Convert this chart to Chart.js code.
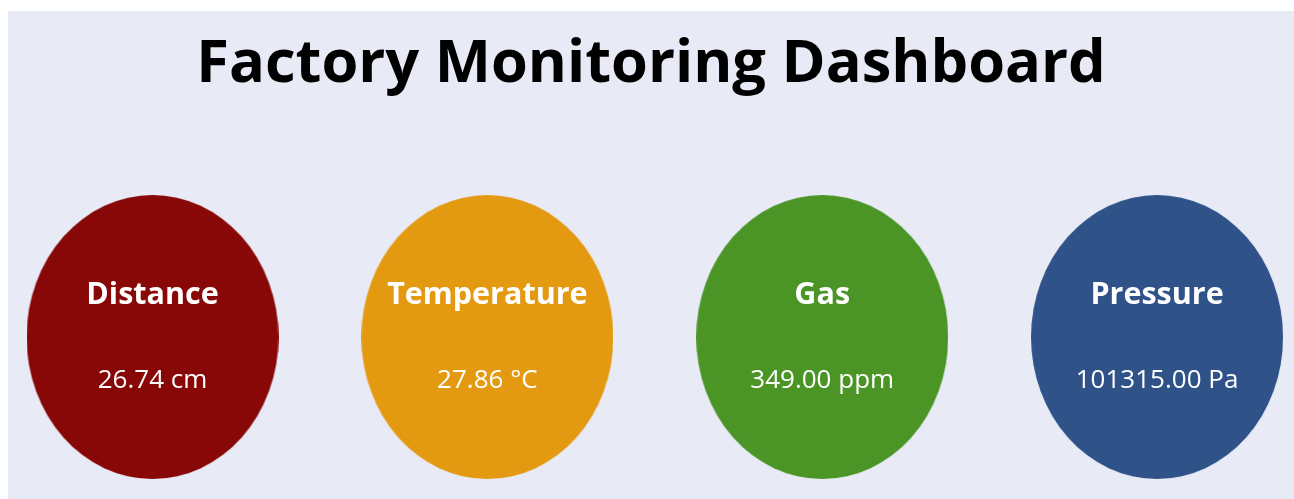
<!DOCTYPE html>
<html>
<head>
<meta charset="utf-8">
<script src="https://cdn.jsdelivr.net/npm/chart.js@4.4.1/dist/chart.umd.min.js"></script>
<style>
  html, body { margin: 0; padding: 0; background: #E8EAF6; overflow: hidden; height: 100%; }
  #topStrip { position: fixed; left: 0; top: 0; right: 0; height: 11px; background: #ffffff; }
  #leftStrip { position: fixed; left: 0; top: 0; bottom: 0; width: 8px; background: #ffffff; }
  #wrap { position: fixed; left: 8px; top: 11px; }
  canvas { display: block; }
</style>
</head>
<body>
<div id="topStrip"></div>
<div id="leftStrip"></div>
<div id="wrap"><canvas id="c" width="1286" height="488"></canvas></div>
<script>
const categories = ['Distance', 'Temperature', 'Gas', 'Pressure'];
const values = [26.74, 27.86, 349.00, 101315.00];
const units = ['cm', '°C', 'ppm', 'Pa'];
const colors = ['#880707', '#E49A10', '#4B9526', '#2F5388'];
const titleText = 'Factory Monitoring Dashboard';

const FONT = '"Open Sans", "Noto Sans", sans-serif';
const ELL_W = 252, ELL_H = 284;

function ellipseImage(color) {
  const cv = document.createElement('canvas');
  cv.width = ELL_W; cv.height = ELL_H;
  const g = cv.getContext('2d');
  g.fillStyle = color;
  g.beginPath();
  g.ellipse(ELL_W / 2, ELL_H / 2, ELL_W / 2, ELL_H / 2, 0, 0, Math.PI * 2);
  g.fill();
  return cv;
}

const gaugeText = {
  id: 'gaugeText',
  afterDatasetsDraw(chart) {
    const ctx = chart.ctx;
    const meta = chart.getDatasetMeta(0);
    ctx.save();
    ctx.fillStyle = '#ffffff';
    ctx.textAlign = 'center';
    ctx.textBaseline = 'middle';
    meta.data.forEach((pt, i) => {
      ctx.font = 'bold 30.5px ' + FONT;
      ctx.fillText(categories[i], pt.x, pt.y - 42);
      ctx.font = '26px ' + FONT;
      ctx.fillText(values[i].toFixed(2) + ' ' + units[i], pt.x, pt.y + 44);
    });
    ctx.restore();
  }
};

new Chart(document.getElementById('c'), {
  type: 'scatter',
  data: {
    datasets: [{
      data: categories.map((c, i) => ({ x: i, y: 0 })),
      pointStyle: colors.map(ellipseImage),
      backgroundColor: colors,
      clip: false
    }]
  },
  options: {
    responsive: false,
    animation: false,
    events: [],
    layout: { padding: 0, autoPadding: false },
    scales: {
      x: { type: 'linear', display: false, min: -0.4316, max: 3.409 },
      y: { type: 'linear', display: false, min: -1, max: 1 }
    },
    plugins: {
      legend: { display: false },
      tooltip: { enabled: false },
      title: {
        display: true,
        text: titleText,
        color: '#000000',
        font: { family: FONT, size: 59.6, weight: 'bold', lineHeight: 1.2 },
        padding: { top: 17.8, bottom: 74.7 }
      }
    }
  },
  plugins: [gaugeText]
});
</script>
</body>
</html>
